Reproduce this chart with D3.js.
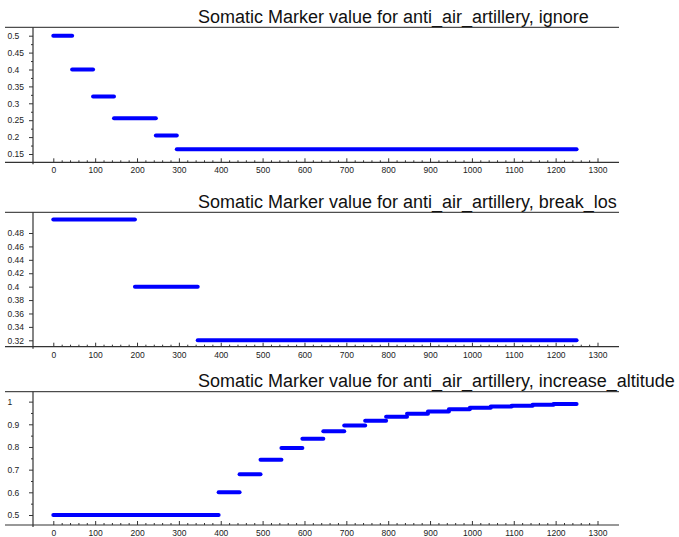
<!DOCTYPE html>
<html>
<head>
<meta charset="utf-8">
<script src="https://cdn.jsdelivr.net/npm/d3@7"></script>
<style>
  html, body { margin: 0; padding: 0; background: #fff; }
  svg { display: block; font-family: "Liberation Sans", Arial, sans-serif; }
</style>
</head>
<body>
<svg id="chart" width="679" height="537"></svg>
<script>
// ---------------- data ----------------
const titles = [
  "Somatic Marker value for anti_air_artillery, ignore",
  "Somatic Marker value for anti_air_artillery, break_los",
  "Somatic Marker value for anti_air_artillery, increase_altitude"
];
const xTickLabels = [0, 100, 200, 300, 400, 500, 600, 700, 800, 900, 1000, 1100, 1200, 1300];
const seriesEnd = 1250;

const ignoreStarts = [0, 45, 95, 145, 245, 295];
const ignoreValues = [0.5, 0.4, 0.32, 0.256, 0.205, 0.164];
const ignoreYTicks = [0.15, 0.2, 0.25, 0.3, 0.35, 0.4, 0.45, 0.5];

const breakLosStarts = [0, 195, 345];
const breakLosValues = [0.5, 0.4, 0.32];
const breakLosYTicks = [0.32, 0.34, 0.36, 0.38, 0.4, 0.42, 0.44, 0.46, 0.48];

const altitudeStarts = [0, 395, 445, 495, 545, 595, 645, 695, 745, 795, 845, 895, 945, 995, 1045, 1095, 1145, 1195];
const altitudeValues = [0.5, 0.6, 0.68, 0.744, 0.795, 0.836, 0.869, 0.895, 0.916, 0.933, 0.946, 0.957, 0.966, 0.973, 0.978, 0.982, 0.986, 0.989];
const altitudeYTicks = [0.5, 0.6, 0.7, 0.8, 0.9, 1];

// ---------------- layout ----------------
const svg = d3.select("#chart");
const axisLeftX = 5, axisRightX = 619, yAxisX = 33;
const x = d3.scaleLinear().domain([0, 1300]).range([53.3, 597.5]);
const xMinor = d3.range(0, 1301, 20).filter(v => v % 100 !== 0);

const panels = [
  { title: titles[0], starts: ignoreStarts, values: ignoreValues, yTicks: ignoreYTicks,
    yDom: [0.15, 0.5], yRange: [154, 35.7], top: 27.3, bottom: 162.3, titleY: 22.7, minorStep: 0.025 },
  { title: titles[1], starts: breakLosStarts, values: breakLosValues, yTicks: breakLosYTicks,
    yDom: [0.32, 0.48], yRange: [340.3, 233], top: 212.3, bottom: 346.7, titleY: 208.3, minorStep: null },
  { title: titles[2], starts: altitudeStarts, values: altitudeValues, yTicks: altitudeYTicks,
    yDom: [0.5, 0.9], yRange: [515, 424.3], top: 391.7, bottom: 525, titleY: 386.7, minorStep: 0.05 }
];

const axisColor = "#333";
const textColor = "#222";

panels.forEach(p => {
  const g = svg.append("g");
  const y = d3.scaleLinear().domain(p.yDom).range(p.yRange);

  // title
  g.append("text")
    .attr("x", 198).attr("y", p.titleY)
    .attr("font-size", 18).attr("fill", "#111")
    .text(p.title);

  // top border line
  g.append("line")
    .attr("x1", axisLeftX).attr("x2", axisRightX)
    .attr("y1", p.top).attr("y2", p.top)
    .attr("stroke", "#222").attr("stroke-width", 1);

  // x axis baseline
  g.append("line")
    .attr("x1", axisLeftX).attr("x2", axisRightX)
    .attr("y1", p.bottom).attr("y2", p.bottom)
    .attr("stroke", axisColor).attr("stroke-width", 1.2);

  // y axis line
  g.append("line")
    .attr("x1", yAxisX).attr("x2", yAxisX)
    .attr("y1", p.top).attr("y2", p.bottom + 2)
    .attr("stroke", axisColor).attr("stroke-width", 1.2);

  // x major ticks + labels
  const xa = g.append("g").attr("transform", `translate(0,${p.bottom})`)
    .call(d3.axisBottom(x).tickValues(xTickLabels).tickSize(-4).tickPadding(5).tickFormat(d3.format("d")));
  xa.select(".domain").remove();
  xa.selectAll(".tick line").attr("stroke", axisColor);
  xa.selectAll(".tick text").attr("font-size", 8.5).attr("fill", textColor)
    .attr("font-family", "Liberation Sans, Arial, sans-serif");

  // x minor ticks
  const xm = g.append("g").attr("transform", `translate(0,${p.bottom})`)
    .call(d3.axisBottom(x).tickValues(xMinor).tickSize(-2).tickFormat(""));
  xm.select(".domain").remove();
  xm.selectAll(".tick line").attr("stroke", axisColor);

  // y major ticks + labels
  const fmt = v => String(+v.toFixed(3));
  const ya = g.append("g").attr("transform", `translate(${yAxisX},0)`)
    .call(d3.axisLeft(y).tickValues(p.yTicks).tickSize(4).tickFormat(fmt));
  ya.select(".domain").remove();
  ya.selectAll(".tick line").attr("stroke", axisColor);
  ya.selectAll(".tick text")
    .attr("text-anchor", "start")
    .attr("x", 7.5 - yAxisX)
    .attr("font-size", 8.5).attr("fill", textColor)
    .attr("font-family", "Liberation Sans, Arial, sans-serif");

  // y minor ticks
  if (p.minorStep) {
    const minors = [];
    const lo = p.yTicks[0], hi = p.yTicks[p.yTicks.length - 1];
    for (let i = 0; i < p.yTicks.length - 1; i++) {
      minors.push((p.yTicks[i] + p.yTicks[i + 1]) / 2);
    }
    const ym = g.append("g").attr("transform", `translate(${yAxisX},0)`)
      .call(d3.axisLeft(y).tickValues(minors).tickSize(2).tickFormat(""));
    ym.select(".domain").remove();
    ym.selectAll(".tick line").attr("stroke", axisColor);
  }

  // step segments
  const segs = p.starts.map((s, i) => ({
    x0: s,
    x1: i < p.starts.length - 1 ? p.starts[i + 1] : seriesEnd,
    v: p.values[i]
  }));
  g.append("g").selectAll("line")
    .data(segs).join("line")
    .attr("x1", d => x(d.x0)).attr("x2", d => x(d.x1))
    .attr("y1", d => y(d.v)).attr("y2", d => y(d.v))
    .attr("stroke", "#0000ff").attr("stroke-width", 4)
    .attr("stroke-linecap", "round");
});
</script>
</body>
</html>
